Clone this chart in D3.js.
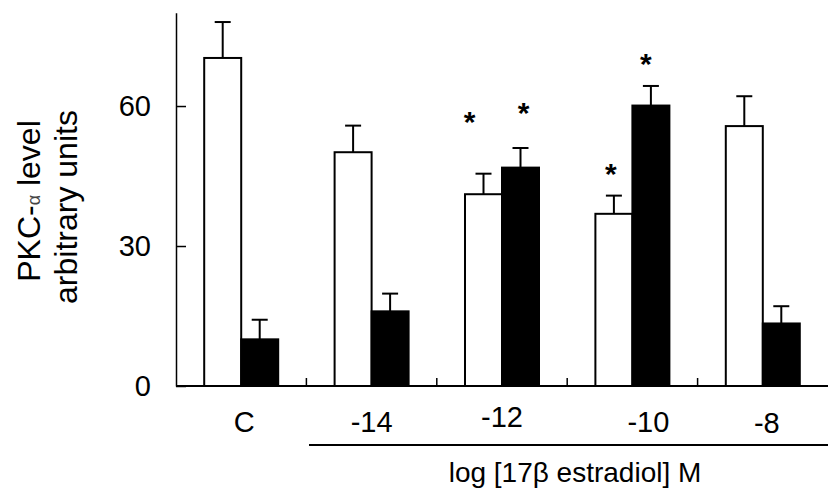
<!DOCTYPE html>
<html>
<head>
<meta charset="utf-8">
<script src="https://cdn.jsdelivr.net/npm/d3@7"></script>
<style>
  body { margin: 0; background: #fff; }
  svg { display: block; font-family: "Liberation Sans", Arial, Helvetica, sans-serif; }
</style>
</head>
<body>
<script>
// PKC-alpha bars, control vs 17b estradiol doses

var categories = ["C", "-14", "-12", "-10", "-8"];
var seriesNames = ["open", "filled"];

// mean values
var openValues   = [70.3, 50.1, 41.1, 36.9, 55.7];
var filledValues = [10.0, 16.0, 46.8, 60.1, 13.4];

// upper error (SEM) for each bar
var openErrors   = [7.7, 5.7, 4.4, 3.9, 6.4];
var filledErrors = [4.2, 3.8, 4.2, 4.2, 3.7];

// significance stars: category, series, height in y units
var stars = [
  {cat: "-12", series: "open",   y: 58.1},
  {cat: "-12", series: "filled", y: 59.9},
  {cat: "-10", series: "open",   y: 47.0},
  {cat: "-10", series: "filled", y: 70.4}
];

var yTicks = [0, 30, 60];

var width  = 828,
    height = 502;

var svg = d3.select("body").append("svg")
    .attr("width", width)
    .attr("height", height);

var x = d3.scaleBand()
    .domain(categories)
    .range([176, 828])
    .paddingInner(0.4325)
    .paddingOuter(0.2163);

var xs = d3.scaleBand()
    .domain(seriesNames)
    .range([0, x.bandwidth()]);

var y = d3.scaleLinear()
    .domain([0, 80])
    .range([386, 12.7]);

// build rows for the bars
var bars = [];
categories.forEach(function(c, i) {
  bars.push({cat: c, series: "open",   value: openValues[i],   err: openErrors[i]});
  bars.push({cat: c, series: "filled", value: filledValues[i], err: filledErrors[i]});
});

var barX = function(d) { return x(d.cat) + xs(d.series); };
var barMid = function(d) { return barX(d) + xs.bandwidth() / 2; };

// error bars first so the bar outline sits on top
var errs = svg.append("g").attr("class", "errors")
  .selectAll("g")
  .data(bars)
  .enter().append("g");

errs.append("line")
  .attr("x1", barMid)
  .attr("x2", barMid)
  .attr("y1", function(d) { return y(d.value); })
  .attr("y2", function(d) { return y(d.value + d.err); })
  .attr("stroke", "#000")
  .attr("stroke-width", 2);

errs.append("line")
  .attr("x1", function(d) { return barMid(d) - 8; })
  .attr("x2", function(d) { return barMid(d) + 8; })
  .attr("y1", function(d) { return y(d.value + d.err); })
  .attr("y2", function(d) { return y(d.value + d.err); })
  .attr("stroke", "#000")
  .attr("stroke-width", 2);

svg.append("g").attr("class", "bars")
  .selectAll("rect")
  .data(bars)
  .enter().append("rect")
  .attr("x", barX)
  .attr("y", function(d) { return y(d.value); })
  .attr("width", xs.bandwidth())
  .attr("height", function(d) { return y(0) - y(d.value); })
  .attr("fill", function(d) { return d.series === "open" ? "#fff" : "#000"; })
  .attr("stroke", "#000")
  .attr("stroke-width", 2);

// y axis, ticks pointing inward
var yAxis = d3.axisLeft(y)
    .tickValues(yTicks)
    .tickSizeInner(-10)
    .tickSizeOuter(0)
    .tickPadding(25)
    .tickFormat(d3.format("d"));

var gy = svg.append("g")
    .attr("transform", "translate(176,0)")
    .call(yAxis);

gy.select(".domain").attr("stroke", "#000").attr("stroke-width", 1.5);
gy.selectAll(".tick line").attr("stroke", "#000").attr("stroke-width", 1.5);
gy.selectAll(".tick text")
  .attr("font-size", 29)
  .attr("font-family", null)
  .attr("fill", "#000");

// x baseline with small upward ticks between groups
svg.append("line")
  .attr("x1", x.range()[0])
  .attr("x2", x.range()[1])
  .attr("y1", y(0))
  .attr("y2", y(0))
  .attr("stroke", "#000")
  .attr("stroke-width", 2);

var bounds = d3.range(1, categories.length).map(function(i) {
  return x.range()[0] + i * x.step();
});

svg.append("g").selectAll("line")
  .data(bounds)
  .enter().append("line")
  .attr("x1", function(d) { return d; })
  .attr("x2", function(d) { return d; })
  .attr("y1", y(0))
  .attr("y2", y(0) - 8)
  .attr("stroke", "#000")
  .attr("stroke-width", 1.5);

// category labels were placed by hand in the original, small nudges
var labelNudge = [[3, 0], [0, 0], [0, -5], [16, 0], [4, 1]];

svg.append("g").selectAll("text")
  .data(categories)
  .enter().append("text")
  .attr("x", function(d, i) { return x(d) + x.bandwidth() / 2 + labelNudge[i][0]; })
  .attr("y", function(d, i) { return 432 + labelNudge[i][1]; })
  .attr("text-anchor", "middle")
  .attr("font-size", 29)
  .text(function(d) { return d; });

// bracket line under the dose labels
svg.append("line")
  .attr("x1", x.range()[0] + x.step() * 1.02)
  .attr("x2", x.range()[1])
  .attr("y1", 445)
  .attr("y2", 445)
  .attr("stroke", "#000")
  .attr("stroke-width", 2);

var title = svg.append("text")
  .attr("x", 575)
  .attr("y", 482)
  .attr("text-anchor", "middle")
  .attr("font-size", 28);
title.append("tspan").text("log [17");
title.append("tspan").text("β");
title.append("tspan").text(" estradiol] M");

// stars
var starNudge = [-14, 3, -3, -5];
svg.append("g").selectAll("text")
  .data(stars)
  .enter().append("text")
  .attr("x", function(d, i) { return x(d.cat) + xs(d.series) + xs.bandwidth() / 2 + starNudge[i]; })
  .attr("y", function(d) { return y(d.y) + 17; })
  .attr("text-anchor", "middle")
  .attr("font-size", 30)
  .attr("font-weight", "bold")
  .text("*");

// y label, two lines rotated
var yl = svg.append("g").attr("transform", "rotate(-90)");

var l1 = yl.append("text")
  .attr("x", -201)
  .attr("y", 40)
  .attr("text-anchor", "middle")
  .attr("font-size", 32);
l1.append("tspan").text("PKC-");
l1.append("tspan").attr("font-size", 18).attr("fill", "#444").text("α");
l1.append("tspan").text(" level");

yl.append("text")
  .attr("x", -207)
  .attr("y", 76.5)
  .attr("text-anchor", "middle")
  .attr("font-size", 32)
  .text("arbitrary units");
</script>
</body>
</html>
